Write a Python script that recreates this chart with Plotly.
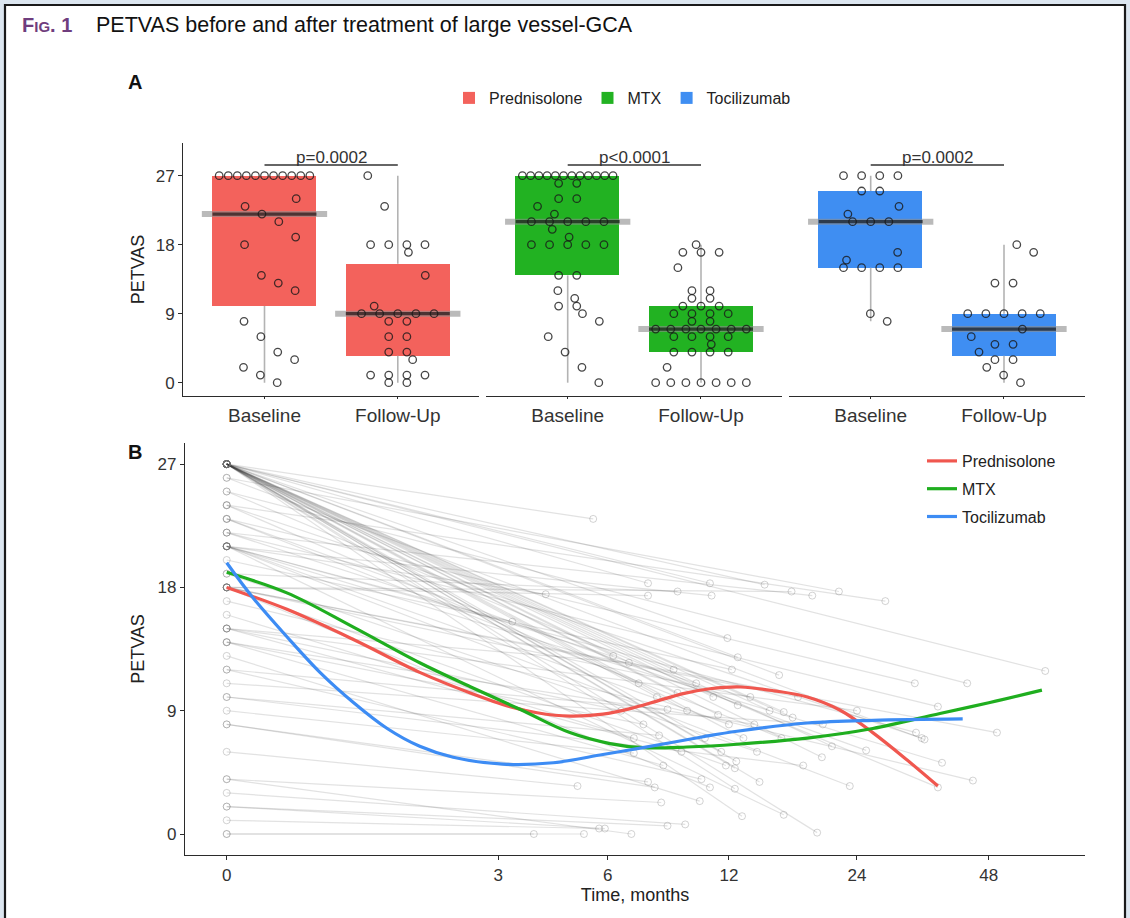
import numpy as np
import plotly.graph_objects as go

FONT = "Liberation Sans, Arial, Helvetica, sans-serif"

# ---------------- data ----------------
groups = ["Prednisolone", "MTX", "Tocilizumab"]
timepoints = ["Baseline", "Follow-Up"]
p_values = ["p=0.0002", "p<0.0001", "p=0.0002"]

pred_baseline = [27, 27, 27, 27, 27, 27, 27, 27, 27, 27, 27, 24, 23, 22, 21, 19, 18, 14, 13, 12, 8, 6, 4, 3, 2, 1, 0]
pred_followup = [27, 23, 18, 18, 18, 18, 17, 14, 10, 9, 9, 9, 9, 9, 8, 8, 6, 6, 4, 4, 3, 1, 1, 1, 1, 0, 0]

mtx_baseline = [27, 27, 27, 27, 27, 27, 27, 27, 27, 27, 27, 27, 26, 26, 24, 24, 23, 22, 21, 21, 21, 21, 21,
                20, 19, 18, 18, 18, 18, 18, 14, 14, 12, 11, 10, 10, 9, 8, 6, 4, 2, 0]
mtx_followup = [18, 17, 17, 17, 15, 12, 12, 11, 11, 10, 10, 10, 9, 9, 9, 9, 8, 8, 7, 7, 7, 7, 7, 7, 7,
                6, 6, 6, 6, 5, 4, 4, 4, 4, 2, 0, 0, 0, 0, 0, 0, 0]

toci_baseline = [27, 27, 27, 27, 25, 25, 23, 22, 21, 21, 21, 17, 16, 15, 15, 15, 15, 9, 8]
toci_followup = [18, 17, 13, 13, 9, 9, 9, 9, 9, 7, 6, 5, 5, 4, 3, 3, 2, 1, 0]

panel_a = {
    "Prednisolone": (pred_baseline, pred_followup),
    "MTX": (mtx_baseline, mtx_followup),
    "Tocilizumab": (toci_baseline, toci_followup),
}

# Panel B: individual patients (baseline value, follow-up time in months, follow-up value)
patient_baseline = [27, 21, 27, 19, 27, 18, 21, 27, 18, 22, 26, 24, 21, 27, 27, 15, 27, 27, 23, 25,
                    27, 27, 22, 12, 27, 27, 27, 14, 18, 21, 24, 26, 10, 27, 23, 9, 27, 27, 21, 27,
                    17, 8, 27, 21, 6, 8, 18, 27, 25, 13, 4, 21, 27, 3, 2, 1, 2, 27, 4, 0, 0,
                    27, 24, 27, 27, 27, 22, 27, 27, 27, 21, 20, 27, 18, 19, 27, 23, 15, 16, 14, 15,
                    12, 18, 14, 18, 10, 11, 15]
patient_fu_time = [5.5, 4.1, 7.6, 9.0, 10.8, 7.6, 10.9, 14.6, 16.9, 18.9, 21.8, 27.9, 3.3, 11.9, 12.6,
                   6.8, 64.4, 15.8, 32.6, 42.9, 9.0, 12.6, 36.8, 8.5, 11.3, 16.2, 17.0, 7.4, 50.1, 32.8,
                   33.8, 34.3, 8.1, 21.0, 25.2, 7.0, 19.9, 12.5, 37.6, 12.4, 44.2, 7.6, 14.2, 23.1, 5.0,
                   7.9, 10.8, 12.4, 36.8, 10.2, 8.2, 16.2, 12.9, 9.4, 8.5, 5.7, 5.9, 19.4, 6.9, 3.8, 5.2,
                   6.2, 7.2, 8.0, 8.8, 9.5, 10.0, 10.5, 11.0, 11.5, 12.0, 12.2, 13.0, 13.5, 14.0, 15.0,
                   16.0, 6.5, 7.0, 8.3, 9.2, 10.3, 11.8, 13.8, 17.5, 18.0, 20.0, 24.0]
patient_fu_value = [23, 17.5, 18.3, 17.7, 18.3, 17.4, 17.4, 18.2, 17.7, 17.4, 17.7, 17.0, 15.5, 14.3, 12.9,
                    12.5, 11.9, 11.6, 11.0, 11.0, 10.3, 9.4, 9.3, 9.1, 8.7, 8.9, 8.5, 8.0, 7.4, 7.4,
                    7.0, 6.9, 7.2, 6.4, 6.1, 5.9, 5.6, 5.3, 5.2, 4.8, 3.9, 3.8, 3.8, 3.5, 3.5,
                    3.4, 3.4, 3.3, 3.4, 2.4, 2.3, 1.4, 1.3, 0.7, 0.6, 0.4, 0.4, 0.1, 0.0, 0.0, 0.0,
                    13, 11, 10, 12, 9, 11, 7, 10, 6, 8, 12, 7, 10, 6, 9,
                    7, 9, 7, 5, 6, 4, 5, 8, 10, 5, 8, 9]

# smoothed group trends
pred_curve_time = [0, 0.36, 0.91, 1.68, 2.47, 3.25, 3.88, 4.77, 5.83, 6.85, 8.0, 9.29, 10.8, 12.8,
                   15.4, 18.4, 21.9, 26.1, 31.3, 36.8]
pred_curve_value = [18.0, 16.4, 14.2, 11.8, 10.3, 9.3, 8.85, 8.6, 8.75, 9.15, 9.7, 10.25, 10.6, 10.73,
                    10.45, 10.0, 9.05, 7.4, 5.4, 3.5]
mtx_curve_time = [0, 0.36, 0.91, 1.68, 2.47, 3.47, 4.77, 6.08, 7.38, 9.49, 12.55, 18.4, 26.1, 37.2, 48.3, 63.3]
mtx_curve_value = [19.1, 17.6, 15.1, 12.5, 10.75, 9.1, 7.4, 6.6, 6.3, 6.35, 6.55, 7.0, 7.7, 8.8, 9.6, 10.5]
toci_curve_time = [0, 0.14, 0.36, 0.61, 0.91, 1.27, 1.68, 2.18, 3.10, 4.30, 5.83, 7.38, 10.4, 12.55, 18.4,
                   26.1, 41.9]
toci_curve_value = [19.8, 17.3, 14.4, 11.8, 9.6, 7.7, 6.4, 5.6, 5.1, 5.2, 5.8, 6.3, 7.1, 7.5, 8.1, 8.3, 8.4]

curves = {
    "Prednisolone": (pred_curve_time, pred_curve_value),
    "MTX": (mtx_curve_time, mtx_curve_value),
    "Tocilizumab": (toci_curve_time, toci_curve_value),
}

time_ticks = [0, 3, 6, 12, 24, 48]
petvas_ticks = [0, 9, 18, 27]

# ---------------- styles ----------------
box_colors = {"Prednisolone": "#F3625C", "MTX": "#22B222", "Tocilizumab": "#3F8EF2"}
curve_colors = {"Prednisolone": "#F0574F", "MTX": "#1FAE1F", "Tocilizumab": "#3D8CF4"}
W, H = 1130, 918


def px_x(p):
    return p / W


def px_y(p):
    return 1 - p / H


def jitter_offsets(values, width=0.34):
    values = np.asarray(values, dtype=float)
    off = np.zeros(len(values))
    golden = 0.6180339887
    uniq, inv, counts = np.unique(values, return_inverse=True, return_counts=True)
    for ui, c in enumerate(counts):
        idx = np.where(inv == ui)[0]
        if c == 1:
            off[idx[0]] = (((idx[0] + 1) * golden + ui * 0.37) % 1 - 0.5) * 2 * width * 0.75
        else:
            spread = width * min(1.0, (c - 1) / 5.0)
            off[idx] = np.linspace(-spread, spread, c)
    return off


fig = go.Figure()

# ---------------- panel A ----------------
box_w = 0.78
for gi, g in enumerate(groups):
    xa = "x" if gi == 0 else f"x{gi + 1}"
    data = panel_a[g]
    stats = []
    for vals in data:
        arr = np.asarray(vals, dtype=float)
        stats.append((arr.min(), np.percentile(arr, 25), np.median(arr), np.percentile(arr, 75), arr.max()))
    # whiskers (outside the box only)
    wx, wy = [], []
    for k, s in enumerate(stats):
        wx += [k, k, None, k, k, None]
        wy += [s[0], s[1], None, s[3], s[4], None]
    fig.add_trace(go.Scatter(x=wx, y=wy, mode="lines", line=dict(color="#b3b3b3", width=1.6),
                             xaxis=xa, yaxis="y", showlegend=False, hoverinfo="skip"))
    # boxes
    fig.add_trace(go.Bar(x=[0, 1], y=[s[3] - s[1] for s in stats], base=[s[1] for s in stats],
                         width=box_w, marker=dict(color=box_colors[g], line=dict(width=0)),
                         name=g, legend="legend2", legendgroup=g + "A",
                         xaxis=xa, yaxis="y", showlegend=True))
    # median band + median line
    bx, by, mx, my = [], [], [], []
    for k, s in enumerate(stats):
        bx += [k - 0.47, k + 0.47, None]
        by += [s[2], s[2], None]
        mx += [k - box_w / 2, k + box_w / 2, None]
        my += [s[2], s[2], None]
    fig.add_trace(go.Scatter(x=bx, y=by, mode="lines", line=dict(color="rgba(140,140,140,0.6)", width=6),
                             xaxis=xa, yaxis="y", showlegend=False, hoverinfo="skip"))
    fig.add_trace(go.Scatter(x=mx, y=my, mode="lines", line=dict(color="rgba(0,0,0,0.58)", width=3.2),
                             xaxis=xa, yaxis="y", showlegend=False, hoverinfo="skip"))
    # points
    px_, py_ = [], []
    for k, vals in enumerate(data):
        offs = jitter_offsets(vals)
        px_ += list(k + offs)
        py_ += list(vals)
    fig.add_trace(go.Scatter(x=px_, y=py_, mode="markers",
                             marker=dict(symbol="circle-open", size=7.5, color="rgba(25,25,25,0.8)",
                                         line=dict(width=1.3)),
                             xaxis=xa, yaxis="y", showlegend=False, hoverinfo="y"))
    # p-value bracket
    fig.add_trace(go.Scatter(x=[0, 1], y=[28.4, 28.4], mode="lines", line=dict(color="#333333", width=1.4),
                             xaxis=xa, yaxis="y", showlegend=False, hoverinfo="skip"))

# ---------------- panel B ----------------
for b, t, v in zip(patient_baseline, patient_fu_time, patient_fu_value):
    fig.add_trace(go.Scatter(x=[0, np.log1p(t)], y=[b, v], mode="lines",
                             line=dict(color="rgba(60,60,60,0.15)", width=1.2),
                             xaxis="x4", yaxis="y4", showlegend=False, hoverinfo="skip"))
fig.add_trace(go.Scatter(x=np.zeros(len(patient_baseline)), y=patient_baseline, mode="markers",
                         marker=dict(symbol="circle-open", size=7, color="rgba(110,110,110,0.3)", line=dict(width=1)),
                         xaxis="x4", yaxis="y4", showlegend=False))
fig.add_trace(go.Scatter(x=np.log1p(patient_fu_time), y=patient_fu_value, mode="markers",
                         marker=dict(symbol="circle-open", size=7, color="rgba(110,110,110,0.3)", line=dict(width=1)),
                         xaxis="x4", yaxis="y4", showlegend=False))
for g in groups:
    ct, cv = curves[g]
    fig.add_trace(go.Scatter(x=np.log1p(ct), y=cv, mode="lines", name=g,
                             line=dict(color=curve_colors[g], width=3.2, shape="spline", smoothing=1.0),
                             xaxis="x4", yaxis="y4", legend="legend", legendgroup=g + "B", showlegend=True))

# ---------------- layout ----------------
tickfont = dict(family=FONT, size=17, color="#333333")
axis_common = dict(showgrid=False, zeroline=False, showline=True, linecolor="#2b2b2b", linewidth=1.3,
                   ticks="outside", ticklen=4, tickcolor="#2b2b2b", tickfont=tickfont)

px_per_cat = 133.3
centers = [264.5, 567.7, 870.7]
xr = [-0.61, 1.61]
layout_axes = {}
for i, c in enumerate(centers):
    name = "xaxis" if i == 0 else f"xaxis{i + 1}"
    d0 = c + xr[0] * px_per_cat
    d1 = c + xr[1] * px_per_cat
    layout_axes[name] = dict(axis_common, domain=[px_x(d0), px_x(d1)], range=xr, tickvals=[0, 1],
                             ticktext=timepoints, anchor="y", ticklen=2,
                             tickfont=dict(family=FONT, size=19, color="#333333"))

ya_bottom, ya_top = 396, 143
ya_zero, ya_ppu = 382.7, 7.667
layout_axes["yaxis"] = dict(axis_common, domain=[px_y(ya_bottom), px_y(ya_top)],
                            range=[(ya_zero - ya_bottom) / ya_ppu, (ya_zero - ya_top) / ya_ppu],
                            tickvals=petvas_ticks, anchor="x",
                            tickfont=dict(family=FONT, size=17, color="#333333"),
                            title=dict(text="PETVAS", font=dict(family=FONT, size=18, color="#222222"), standoff=6))

xb_left, xb_right, xb_zero, xb_ppu = 185, 1085, 226.7, 195.8
yb_bottom, yb_top, yb_zero, yb_ppu = 855, 443, 834, 13.7
layout_axes["xaxis4"] = dict(axis_common, domain=[px_x(xb_left), px_x(xb_right)],
                             range=[(xb_left - xb_zero) / xb_ppu, (xb_right - xb_zero) / xb_ppu],
                             tickvals=list(np.log1p(time_ticks)), ticktext=[str(t) for t in time_ticks],
                             anchor="y4",
                             title=dict(text="Time, months", font=dict(family=FONT, size=18, color="#222222"), standoff=3))
layout_axes["yaxis4"] = dict(axis_common, domain=[px_y(yb_bottom), px_y(yb_top)],
                             range=[(yb_zero - yb_bottom) / yb_ppu, (yb_zero - yb_top) / yb_ppu],
                             tickvals=petvas_ticks, anchor="x4",
                             title=dict(text="PETVAS", font=dict(family=FONT, size=18, color="#222222"), standoff=8))

annotations = [
    dict(text="<b><span style='color:#6f3d7e'>F<span style='font-size:15px'>IG</span>. 1</span></b>",
         x=px_x(20), y=px_y(25), xref="paper", yref="paper", xanchor="left", yanchor="middle",
         showarrow=False, font=dict(family=FONT, size=20, color="#6f3d7e")),
    dict(text="PETVAS before and after treatment of large vessel-GCA",
         x=px_x(94), y=px_y(25), xref="paper", yref="paper", xanchor="left", yanchor="middle",
         showarrow=False, font=dict(family=FONT, size=21.5, color="#111111")),
    dict(text="<b>A</b>", x=px_x(126), y=px_y(82), xref="paper", yref="paper", xanchor="left",
         yanchor="middle", showarrow=False, font=dict(family=FONT, size=20, color="#111111")),
    dict(text="<b>B</b>", x=px_x(126), y=px_y(452), xref="paper", yref="paper", xanchor="left",
         yanchor="middle", showarrow=False, font=dict(family=FONT, size=20, color="#111111")),
]
for gi, p in enumerate(p_values):
    xa = "x" if gi == 0 else f"x{gi + 1}"
    annotations.append(dict(text=p, x=0.5, y=28.4, xref=xa, yref="y", xanchor="center", yanchor="bottom",
                            yshift=-4, showarrow=False, font=dict(family=FONT, size=17, color="#333333")))

shapes = [
    dict(type="rect", xref="paper", yref="paper", x0=px_x(5), x1=px_x(1125), y0=px_y(930), y1=px_y(5),
         fillcolor="white", line=dict(color="#1a1a1a", width=2.2), layer="below"),
]

fig.update_layout(
    width=W, height=H, autosize=False,
    margin=dict(l=0, r=0, t=0, b=0),
    paper_bgcolor="#dce6f0", plot_bgcolor="rgba(0,0,0,0)",
    barmode="overlay", bargap=0,
    font=dict(family=FONT, color="#222222"),
    annotations=annotations, shapes=shapes,
    legend=dict(x=px_x(922), y=px_y(444), xanchor="left", yanchor="top", bgcolor="rgba(0,0,0,0)",
                font=dict(family=FONT, size=16, color="#222222"), tracegroupgap=4, itemwidth=30),
    legend2=dict(orientation="h", x=px_x(449), y=px_y(81), xanchor="left", yanchor="top",
                 bgcolor="rgba(0,0,0,0)", font=dict(family=FONT, size=16, color="#222222"),
                 itemwidth=30, tracegroupgap=0),
    **layout_axes,
)

fig.write_html("out.html")
